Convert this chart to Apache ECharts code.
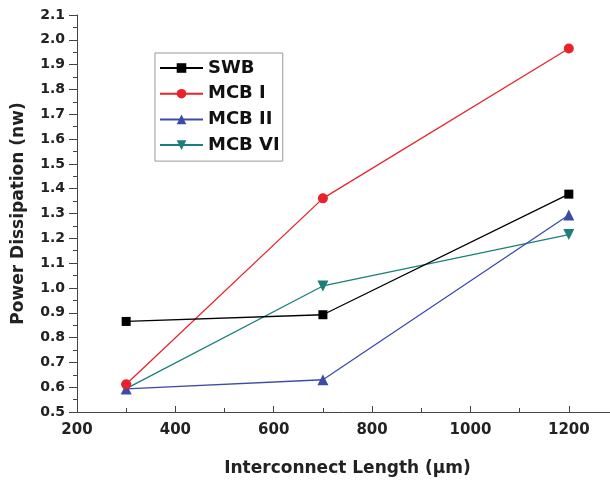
<!DOCTYPE html>
<html><head><meta charset="utf-8">
<script src="https://cdn.jsdelivr.net/npm/echarts@6/dist/echarts.min.js"></script>
<style>html,body{margin:0;padding:0;background:#fff}#c{width:610px;height:485px}</style>
</head><body><div id="c"></div>
<script>
const lengths = [300, 700, 1200];
const swb = [0.865, 0.892, 1.378];
const mcb1 = [0.612, 1.361, 1.965];
const mcb2 = [0.593, 0.630, 1.294];
const mcb6 = [0.594, 1.008, 1.215];
const seriesNames = ['SWB', 'MCB I', 'MCB II', 'MCB VI'];
const colors = ['#000000', '#e8242a', '#3b4ca8', '#1b7f7a'];
const symbols = ['rect', 'circle', 'triangle', 'path://M0,0 L10,0 L5,9 Z'];
const allData = [swb, mcb1, mcb2, mcb6];

const font = 'DejaVu Sans, sans-serif';
const chart = echarts.init(document.getElementById('c'));
chart.setOption({
  animation: false,
  backgroundColor: '#fff',
  grid: { left: 77, top: 15, width: 541, height: 397, outerBoundsMode: 'none', containLabel: false },
  legend: {
    orient: 'vertical', left: 155, top: 53,
    itemWidth: 43, itemHeight: 12, itemGap: 7.7,
    borderColor: '#999', borderWidth: 1,
    padding: [6, 3, 7, 4],
    textStyle: { fontFamily: font, fontWeight: 'bold', fontSize: 18, lineHeight: 17, color: '#111' },
    data: seriesNames
  },
  xAxis: {
    type: 'value', min: 200, max: 1300, interval: 200,
    name: 'Interconnect Length (\u03bcm)', nameLocation: 'middle', nameGap: 48,
    nameTextStyle: { fontFamily: font, fontWeight: 'bold', fontSize: 17, color: '#222' },
    axisLine: { lineStyle: { color: '#444', width: 1 } },
    axisTick: { inside: true, length: 6, lineStyle: { color: '#444' } },
    minorTick: { show: true, splitNumber: 2, length: 4, lineStyle: { color: '#444' } },
    axisLabel: { fontFamily: font, fontWeight: 'bold', fontSize: 15, color: '#222', margin: 11,
      formatter: v => (v % 200 === 0 && v <= 1200) ? String(v) : '' },
    splitLine: { show: false }
  },
  yAxis: {
    type: 'value', min: 0.5, max: 2.1, interval: 0.1,
    name: 'Power Dissipation (nw)', nameLocation: 'middle', nameGap: 50,
    nameTextStyle: { fontFamily: font, fontWeight: 'bold', fontSize: 17, color: '#222' },
    axisLine: { show: true, lineStyle: { color: '#444', width: 1 } },
    axisTick: { show: true, length: 8, lineStyle: { color: '#444' } },
    minorTick: { show: true, splitNumber: 2, length: 4, lineStyle: { color: '#444' } },
    axisLabel: { fontFamily: font, fontWeight: 'bold', fontSize: 14, color: '#222', margin: 12,
      formatter: v => v.toFixed(1) },
    splitLine: { show: false }
  },
  series: seriesNames.map((n, i) => ({
    name: n, type: 'line',
    data: lengths.map((x, j) => [x, allData[i][j]]),
    symbol: symbols[i],
    symbolSize: i === 0 ? 9 : (i === 1 ? 10 : 11),
    showAllSymbol: true,
    itemStyle: { color: colors[i] },
    lineStyle: { color: colors[i], width: 1.3 },
    z: 10 - i
  }))
});
</script></body></html>
